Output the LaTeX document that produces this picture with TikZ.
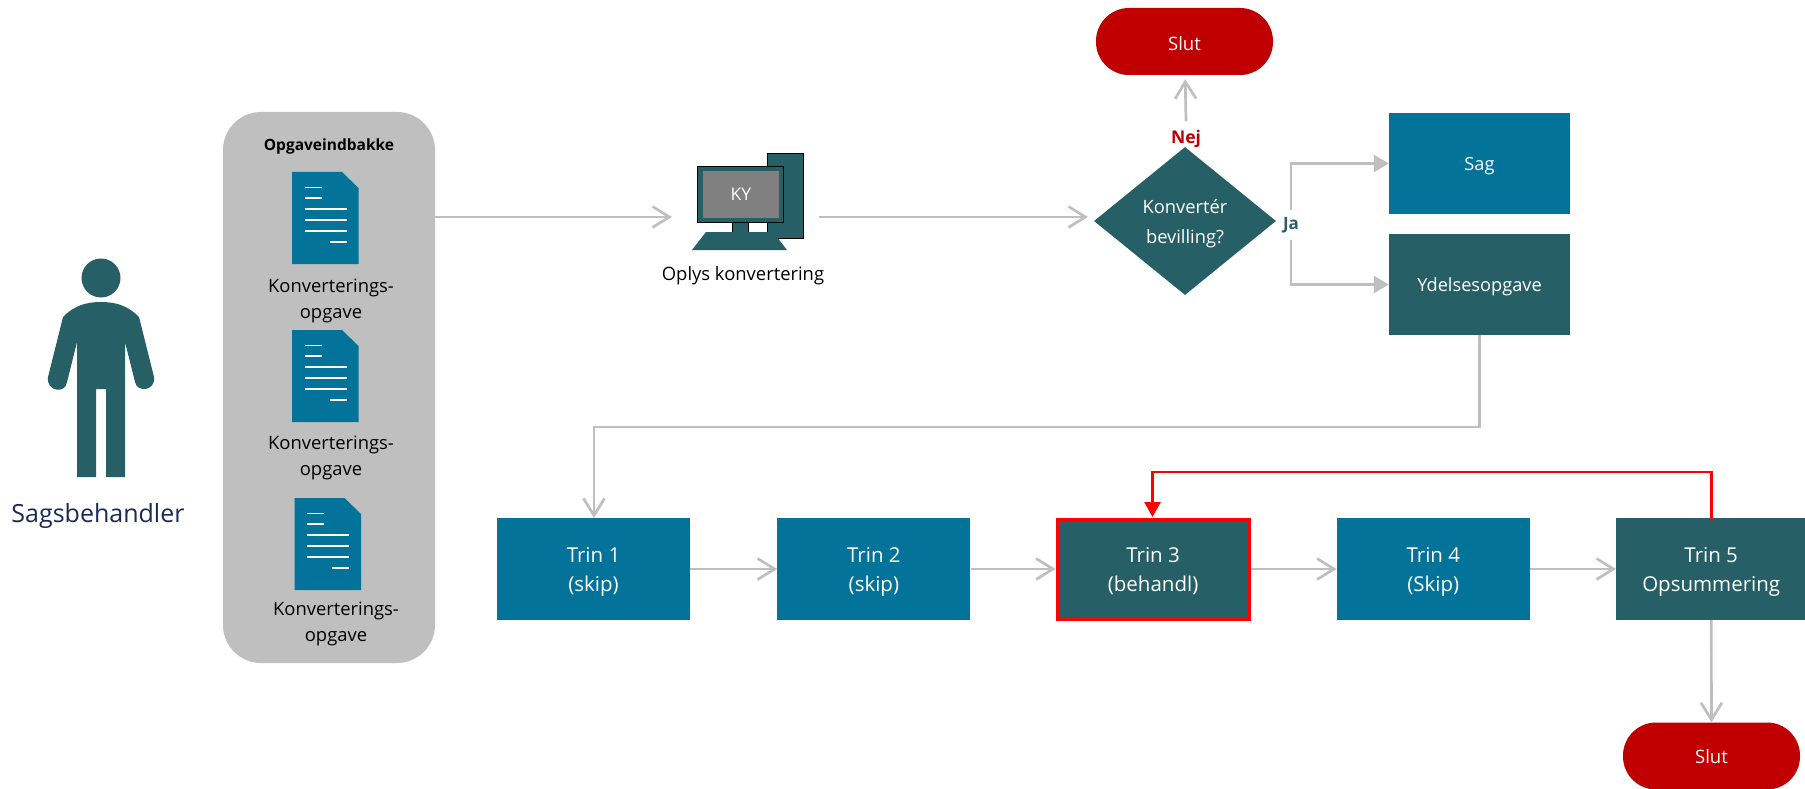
\documentclass[tikz,border=0pt]{standalone}
\usepackage{fontspec}
\setmainfont{Open Sans}
\usetikzlibrary{arrows.meta, positioning, shapes.geometric}
\definecolor{tealbox}{HTML}{266066}
\definecolor{bluebox}{HTML}{03739A}
\definecolor{slutred}{HTML}{C00000}
\definecolor{linegray}{HTML}{BFBFBF}
\definecolor{workerblue}{HTML}{1B2A52}
\tikzstyle{block} = [rectangle, text=white, align=center, minimum width=193pt,
    minimum height=102pt, inner sep=0pt, text depth=0pt, font=\fontsize{20.5}{29}\selectfont]
\tikzstyle{bluestep} = [block, fill=bluebox]
\tikzstyle{tealstep} = [block, fill=tealbox]
\tikzstyle{topbox} = [block, minimum width=181pt, minimum height=101pt, font=\fontsize{18.2}{25}\selectfont]
\tikzstyle{slut} = [rectangle, rounded corners=33pt, fill=slutred, text=white, text depth=0pt,
    minimum height=67pt, inner sep=0pt, font=\fontsize{18.5}{22}\selectfont]
\tikzstyle{tasklabel} = [align=center, inner sep=0pt, font=\fontsize{18.4}{26.5}\selectfont]
\tikzstyle{arrow} = [draw=linegray, line width=2.7pt,
    arrows={-Straight Barb[length=17pt,width=21pt,line width=2.7pt]}]
\tikzstyle{solidarrow} = [draw=linegray, line width=2.7pt,
    arrows={-Triangle[length=15pt,width=17pt]}]
\tikzstyle{loop} = [draw=red, line width=2.7pt, arrows={-Triangle[length=15pt,width=16pt]}]
\tikzset{
  taskdoc/.pic={
    \fill [bluebox] (0,0) -- (50,0) -- (66.5,16) -- (66.5,92) -- (0,92) -- cycle;
    \foreach \y in {15.5,26} \draw [white, line width=1.7pt] (12.5,\y) -- (29.5,\y);
    \foreach \y in {37,48,59} \draw [white, line width=1.7pt] (12.5,\y) -- (54.5,\y);
    \draw [white, line width=1.7pt] (37.5,70) -- (54.5,70);
  }
}

\begin{document}
\begin{tikzpicture}[x=1pt, y=-1pt]
  \useasboundingbox (0,0) rectangle (1805,789);

  % The case worker
  \fill [tealbox] (101,278) circle (19.5);
  \fill [tealbox] (101,302) .. controls (80,302) and (70,310) .. (63,317)
    -- (48,377) .. controls (46,392) and (66,394) .. (67,382) -- (77,342)
    -- (77,477) -- (96,477) -- (96,389) -- (106,389) -- (106,477) -- (125,477)
    -- (125,342) -- (135,382) .. controls (137,393) and (156,391) .. (154,377)
    -- (139,317) .. controls (132,310) and (122,302) .. (101,302) -- cycle;
  \node [font=\fontsize{25}{30}\selectfont, text=workerblue] (worker) at (98,516) {Sagsbehandler};

  % The inbox with its tasks
  \node [rectangle, rounded corners=38pt, fill=linegray, minimum width=212pt,
    minimum height=551pt] (inbox) at (329,387.5) {};
  \node [font=\fontsize{15.5}{18}\bfseries\selectfont, inner sep=0pt] (inboxtitle) at (329,146) {Opgaveindbakke};
  \pic at (292,172) {taskdoc};
  \pic at (292,330) {taskdoc};
  \pic at (294.5,498) {taskdoc};
  \node [tasklabel] (task1) at (331,301) {Konverterings-\\opgave};
  \node [tasklabel] (task2) at (331,458) {Konverterings-\\opgave};
  \node [tasklabel] (task3) at (336,624) {Konverterings-\\opgave};

  % The computer
  \draw [fill=tealbox, line width=0.6pt] (767,153) rectangle (803,238);
  \draw [fill=tealbox, line width=0.6pt] (732,222) rectangle (748,232);
  \draw [fill=tealbox, line width=0.6pt] (697,166) rectangle (783,222);
  \fill [tealbox] (706,232) -- (773,232) -- (787,250) -- (692,250) -- cycle;
  \node [fill=black!50, text=white, minimum width=76pt, minimum height=47pt, inner sep=0pt,
    text depth=0pt, font=\fontsize{17.5}{20}\selectfont] (screen) at (741,194.5) {KY};
  \node [tasklabel] (pclabel) at (743,276) {Oplys konvertering};

  % Place the blocks
  \node [diamond, aspect=1.23, fill=tealbox, text=white, align=center, inner sep=0pt,
    minimum width=182pt, minimum height=148pt, text depth=0pt, font=\fontsize{18.3}{30}\selectfont] (convert) at (1185,221) {Konvertér\\bevilling?};
  \node [slut, minimum width=177pt] (slutTop) at (1184.5,41.5) {\raisebox{-3pt}{Slut}};
  \node [font=\fontsize{17.5}{20}\bfseries\selectfont, text=slutred, inner sep=0pt] (nej) at (1186,139) {Nej};
  \node [font=\fontsize{17}{20}\bfseries\selectfont, text=tealbox, inner xsep=0pt, inner ysep=7pt] (ja) at (1291,225) {Ja};
  \node [topbox, fill=bluebox] (sag) at (1479.5,163.5) {Sag};
  \node [topbox, fill=tealbox] (ydelse) at (1479.5,284.5) {Ydelsesopgave};

  \node [bluestep] (trin1) at (593.5,569) {Trin 1\\(skip)};
  \node [bluestep, right=87pt of trin1] (trin2) {Trin 2\\(skip)};
  \node [tealstep, draw=red, line width=3pt, minimum width=192pt, minimum height=100pt, right=85pt of trin2] (trin3) {Trin 3\\(behandl)};
  \node [bluestep, right=86pt of trin3] (trin4) {Trin 4\\(Skip)};
  \node [tealstep, minimum width=190pt, right=86pt of trin4] (trin5) {Trin 5\\Opsummering};
  \node [slut, minimum width=177pt] (slutBottom) at (1711.5,756) {Slut};

  \coordinate (inboxout) at (435,217);
  \coordinate (pcin) at (672,217);
  \coordinate (pcout) at (819,217);
  \coordinate (convertin) at (1088,217);
  \coordinate (trinin) at (594,518);
  \coordinate (loopout) at (1711.5,520);
  \coordinate (loopin) at (1152.5,517);

  % Connect the nodes
  \draw [arrow] (inboxout) -- (pcin);
  \draw [arrow] (pcout) -- (convertin);
  \draw [arrow, shorten >=4pt] (nej.north) ++(0,-9) -- (slutTop);
  \draw [solidarrow] (ja.north) |- (sag);
  \draw [solidarrow] (ja.south) |- (ydelse);
  \draw [arrow] (ydelse) |- (1000,427) -| (trinin);
  \draw [arrow] (trin1) -- (trin2);
  \draw [arrow] (trin2) -- (trin3);
  \draw [arrow] (trin3) -- (trin4);
  \draw [arrow] (trin4) -- (trin5);
  \draw [arrow] (trin5) -- (slutBottom);
  \draw [loop] (loopout) |- (1400,472) -| (loopin);
\end{tikzpicture}
\end{document}
